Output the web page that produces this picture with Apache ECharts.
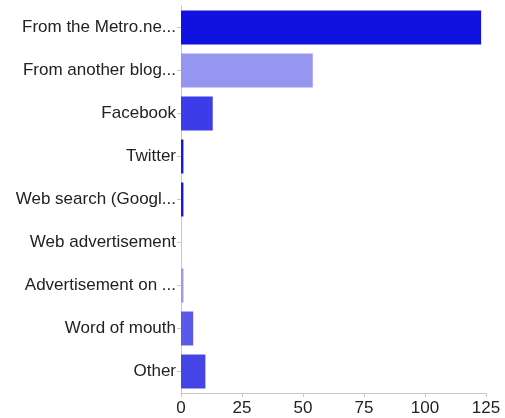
<!DOCTYPE html>
<html><head><meta charset="utf-8">
<script src="https://cdn.jsdelivr.net/npm/echarts@6/dist/echarts.min.js"></script>
<style>html,body{margin:0;padding:0;background:#fff}#c{width:505px;height:418px}</style>
</head><body><div id="c"></div>
<script>
const categories = ["From the Metro.ne...","From another blog...","Facebook","Twitter","Web search (Googl...","Web advertisement","Advertisement on ...","Word of mouth","Other"];
const values = [123, 54, 13, 1, 1, 0, 1, 5, 10];
const barColors = ["#1212e0","#9696f0","#3c3ce8","#1a1ad8","#1a1ad8","#1a1ad8","#9a9af0","#5a5aea","#4545e6"];
const xTicks = [0, 25, 50, 75, 100, 125];

const chart = echarts.init(document.getElementById('c'));
chart.setOption({
  animation: false,
  grid: { left: 181, right: 19, top: 6, bottom: 25, containLabel: false },
  xAxis: {
    type: 'value', min: xTicks[0], max: xTicks[xTicks.length-1], interval: 25,
    axisLine: { show: true, lineStyle: { color: '#c8c8c8', width: 1 } },
    axisTick: { show: true, length: 4, lineStyle: { color: '#c8c8c8' } },
    splitLine: { show: false },
    axisLabel: { color: '#222', fontSize: 17, fontFamily: 'Liberation Sans, Arial', margin: 7 }
  },
  yAxis: {
    type: 'category', data: categories, inverse: true,
    axisLine: { show: true, lineStyle: { color: '#c8c8c8', width: 1 } },
    axisTick: { show: true, length: 4, alignWithLabel: true, lineStyle: { color: '#c8c8c8' } },
    axisLabel: { color: '#222', fontSize: 17, fontFamily: 'Liberation Sans, Arial', margin: 5 }
  },
  series: [{
    type: 'bar',
    data: values.map((v, i) => ({ value: v, itemStyle: { color: barColors[i] } })),
    barWidth: '79%'
  }]
});
</script></body></html>
